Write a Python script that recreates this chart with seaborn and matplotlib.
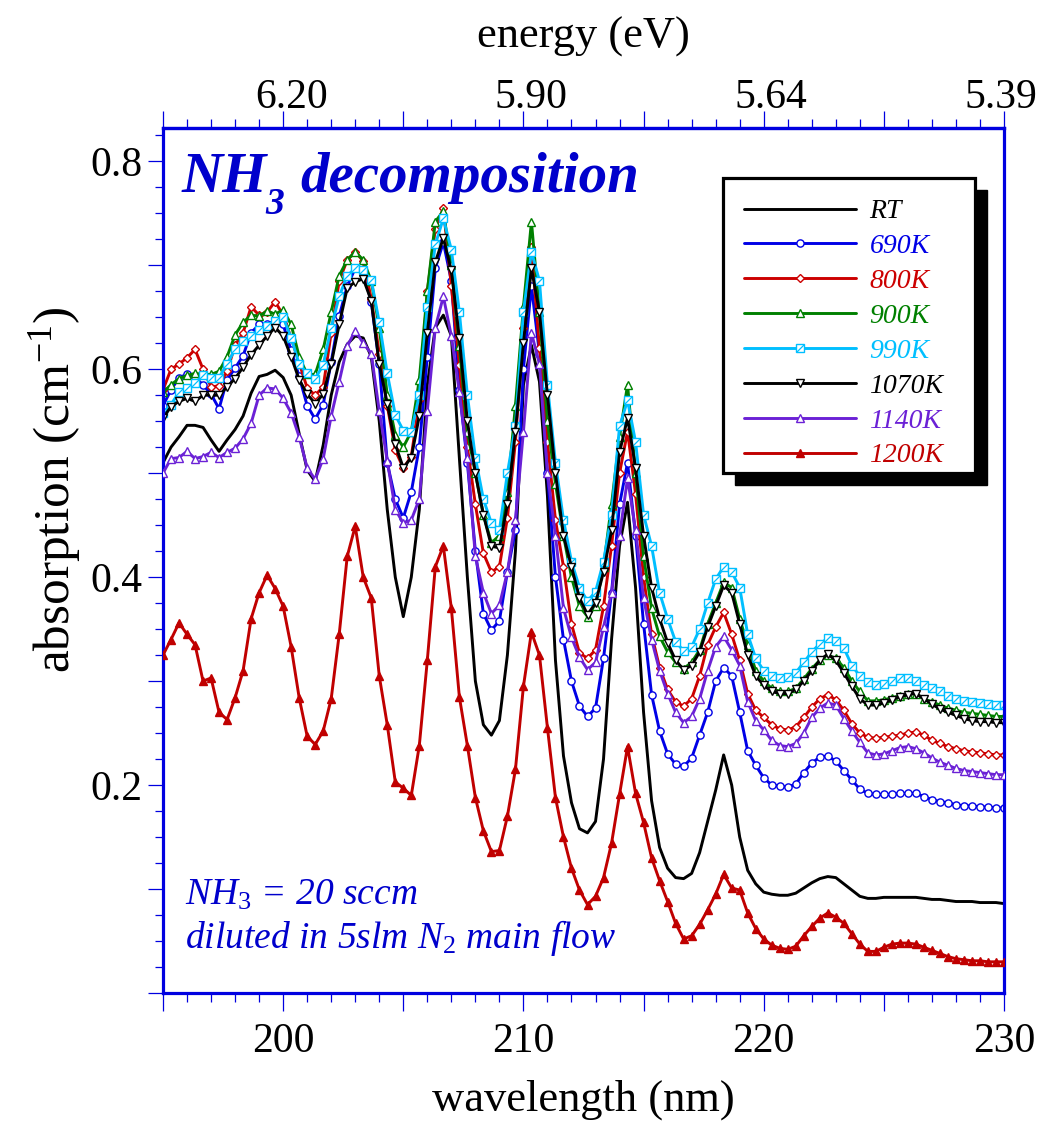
import numpy as np
import pandas as pd
import matplotlib
matplotlib.use("Agg")
import matplotlib.pyplot as plt
import matplotlib.transforms as mtransforms
import seaborn as sns
from matplotlib.patches import Rectangle
from matplotlib.path import Path
from matplotlib.ticker import FixedLocator, FixedFormatter, MultipleLocator
from matplotlib.legend_handler import HandlerTuple

# ---------------- data ----------------
wavelength = np.round(np.linspace(195.0, 230.0, 106), 3)   # 1/3 nm grid

rt = [0.510, 0.525, 0.535, 0.546, 0.546, 0.544, 0.532, 0.521, 0.532, 0.542,
      0.555, 0.577, 0.593, 0.595, 0.599, 0.592, 0.575, 0.538, 0.503, 0.492,
      0.527, 0.575, 0.607, 0.624, 0.632, 0.630, 0.612, 0.550, 0.465, 0.400,
      0.362, 0.400, 0.465, 0.585, 0.640, 0.652, 0.632, 0.515, 0.400, 0.300,
      0.258, 0.248, 0.262, 0.325, 0.425, 0.585, 0.623, 0.588, 0.478, 0.320,
      0.228, 0.183, 0.158, 0.154, 0.165, 0.225, 0.340, 0.430, 0.472, 0.390,
      0.270, 0.185, 0.140, 0.120, 0.111, 0.110, 0.115, 0.135, 0.165, 0.195,
      0.229, 0.200, 0.150, 0.118, 0.105, 0.097, 0.095, 0.094, 0.094, 0.096,
      0.101, 0.106, 0.110, 0.112, 0.111, 0.105, 0.099, 0.093, 0.091, 0.091,
      0.092, 0.092, 0.092, 0.092, 0.092, 0.091, 0.090, 0.090, 0.089, 0.088,
      0.088, 0.088, 0.087, 0.087, 0.087, 0.086]

k690 = [0.565, 0.580, 0.592, 0.595, 0.592, 0.585, 0.576, 0.562, 0.590, 0.601,
        0.613, 0.635, 0.643, 0.643, 0.647, 0.643, 0.618, 0.593, 0.565, 0.552,
        0.566, 0.607, 0.651, 0.680, 0.697, 0.693, 0.665, 0.605, 0.510, 0.475,
        0.457, 0.482, 0.525, 0.612, 0.697, 0.722, 0.685, 0.580, 0.510, 0.425,
        0.365, 0.349, 0.358, 0.405, 0.445, 0.600, 0.680, 0.615, 0.500, 0.400,
        0.340, 0.300, 0.276, 0.266, 0.274, 0.322, 0.385, 0.470, 0.510, 0.440,
        0.355, 0.287, 0.252, 0.230, 0.220, 0.218, 0.226, 0.248, 0.270, 0.300,
        0.313, 0.305, 0.270, 0.233, 0.219, 0.207, 0.200, 0.199, 0.198, 0.201,
        0.212, 0.221, 0.227, 0.228, 0.223, 0.214, 0.205, 0.196, 0.192, 0.191,
        0.191, 0.191, 0.192, 0.192, 0.192, 0.189, 0.186, 0.184, 0.183, 0.181,
        0.180, 0.180, 0.179, 0.179, 0.178, 0.178]

k800 = [0.580, 0.600, 0.605, 0.611, 0.619, 0.600, 0.583, 0.584, 0.598, 0.623,
        0.635, 0.660, 0.652, 0.655, 0.665, 0.652, 0.630, 0.606, 0.582, 0.575,
        0.583, 0.635, 0.685, 0.705, 0.713, 0.704, 0.668, 0.615, 0.565, 0.522,
        0.505, 0.516, 0.570, 0.675, 0.735, 0.755, 0.680, 0.604, 0.525, 0.470,
        0.423, 0.405, 0.410, 0.457, 0.530, 0.640, 0.718, 0.620, 0.530, 0.455,
        0.410, 0.355, 0.327, 0.322, 0.330, 0.372, 0.430, 0.500, 0.540, 0.480,
        0.400, 0.345, 0.313, 0.292, 0.280, 0.276, 0.283, 0.305, 0.335, 0.352,
        0.366, 0.345, 0.320, 0.288, 0.272, 0.265, 0.258, 0.254, 0.253, 0.256,
        0.265, 0.275, 0.283, 0.287, 0.282, 0.272, 0.259, 0.250, 0.246, 0.245,
        0.246, 0.247, 0.248, 0.250, 0.251, 0.248, 0.243, 0.240, 0.237, 0.235,
        0.233, 0.232, 0.231, 0.230, 0.229, 0.229]

k900 = [0.578, 0.585, 0.591, 0.594, 0.596, 0.595, 0.595, 0.598, 0.612, 0.633,
        0.645, 0.652, 0.651, 0.656, 0.653, 0.657, 0.643, 0.612, 0.595, 0.595,
        0.619, 0.655, 0.690, 0.705, 0.713, 0.705, 0.685, 0.640, 0.575, 0.537,
        0.525, 0.540, 0.590, 0.675, 0.742, 0.752, 0.700, 0.622, 0.540, 0.500,
        0.460, 0.433, 0.440, 0.482, 0.565, 0.660, 0.742, 0.655, 0.550, 0.490,
        0.440, 0.400, 0.372, 0.362, 0.372, 0.410, 0.470, 0.535, 0.585, 0.500,
        0.420, 0.370, 0.343, 0.328, 0.318, 0.312, 0.318, 0.330, 0.355, 0.375,
        0.395, 0.390, 0.360, 0.335, 0.310, 0.300, 0.293, 0.290, 0.290, 0.293,
        0.302, 0.312, 0.320, 0.325, 0.322, 0.313, 0.300, 0.290, 0.281, 0.281,
        0.282, 0.284, 0.286, 0.288, 0.288, 0.283, 0.280, 0.277, 0.274, 0.272,
        0.270, 0.269, 0.268, 0.267, 0.266, 0.266]

k990 = [0.558, 0.566, 0.578, 0.582, 0.587, 0.594, 0.592, 0.592, 0.605, 0.619,
        0.627, 0.632, 0.638, 0.642, 0.646, 0.650, 0.630, 0.605, 0.596, 0.591,
        0.604, 0.640, 0.670, 0.690, 0.697, 0.695, 0.686, 0.645, 0.596, 0.556,
        0.541, 0.540, 0.575, 0.660, 0.720, 0.745, 0.715, 0.655, 0.575, 0.515,
        0.475, 0.452, 0.445, 0.500, 0.545, 0.655, 0.713, 0.685, 0.585, 0.510,
        0.455, 0.415, 0.390, 0.377, 0.386, 0.415, 0.460, 0.545, 0.570, 0.530,
        0.460, 0.430, 0.385, 0.360, 0.338, 0.329, 0.333, 0.350, 0.375, 0.398,
        0.410, 0.405, 0.390, 0.345, 0.322, 0.310, 0.305, 0.303, 0.304, 0.308,
        0.318, 0.328, 0.336, 0.341, 0.339, 0.332, 0.315, 0.305, 0.299, 0.296,
        0.297, 0.300, 0.303, 0.303, 0.300, 0.296, 0.293, 0.290, 0.286, 0.283,
        0.281, 0.280, 0.279, 0.278, 0.277, 0.277]

k1070 = [0.553, 0.564, 0.569, 0.572, 0.569, 0.575, 0.575, 0.575, 0.583, 0.591,
         0.602, 0.614, 0.623, 0.632, 0.640, 0.632, 0.612, 0.590, 0.576, 0.567,
         0.576, 0.605, 0.643, 0.678, 0.684, 0.687, 0.666, 0.605, 0.567, 0.528,
         0.505, 0.515, 0.555, 0.635, 0.703, 0.726, 0.695, 0.630, 0.550, 0.500,
         0.460, 0.430, 0.428, 0.470, 0.540, 0.625, 0.697, 0.655, 0.575, 0.500,
         0.440, 0.410, 0.380, 0.364, 0.375, 0.405, 0.445, 0.520, 0.553, 0.505,
         0.440, 0.390, 0.360, 0.337, 0.320, 0.311, 0.315, 0.328, 0.352, 0.372,
         0.392, 0.385, 0.355, 0.325, 0.305, 0.296, 0.290, 0.288, 0.288, 0.292,
         0.300, 0.310, 0.320, 0.326, 0.320, 0.308, 0.295, 0.283, 0.277, 0.277,
         0.279, 0.282, 0.285, 0.287, 0.288, 0.283, 0.278, 0.273, 0.270, 0.267,
         0.264, 0.262, 0.261, 0.261, 0.260, 0.260]

k1140 = [0.500, 0.514, 0.515, 0.521, 0.514, 0.516, 0.520, 0.515, 0.520, 0.524,
         0.533, 0.548, 0.575, 0.582, 0.581, 0.572, 0.558, 0.535, 0.505, 0.494,
         0.514, 0.555, 0.588, 0.622, 0.637, 0.625, 0.615, 0.560, 0.512, 0.465,
         0.452, 0.455, 0.475, 0.560, 0.640, 0.670, 0.632, 0.578, 0.515, 0.420,
         0.385, 0.365, 0.373, 0.405, 0.455, 0.540, 0.635, 0.605, 0.500, 0.440,
         0.370, 0.342, 0.323, 0.311, 0.318, 0.352, 0.385, 0.440, 0.495, 0.445,
         0.380, 0.340, 0.310, 0.288, 0.270, 0.260, 0.266, 0.283, 0.310, 0.333,
         0.343, 0.330, 0.315, 0.280, 0.262, 0.253, 0.243, 0.238, 0.237, 0.240,
         0.250, 0.265, 0.274, 0.279, 0.277, 0.264, 0.252, 0.241, 0.231, 0.229,
         0.230, 0.233, 0.236, 0.237, 0.235, 0.231, 0.226, 0.222, 0.219, 0.216,
         0.214, 0.213, 0.212, 0.211, 0.210, 0.210]

k1200 = [0.325, 0.340, 0.356, 0.345, 0.335, 0.300, 0.303, 0.270, 0.263, 0.284,
         0.310, 0.360, 0.385, 0.402, 0.389, 0.372, 0.333, 0.284, 0.247, 0.239,
         0.252, 0.283, 0.345, 0.420, 0.449, 0.400, 0.380, 0.305, 0.258, 0.203,
         0.197, 0.190, 0.238, 0.320, 0.410, 0.430, 0.370, 0.285, 0.238, 0.188,
         0.156, 0.136, 0.137, 0.170, 0.215, 0.295, 0.347, 0.325, 0.255, 0.188,
         0.150, 0.120, 0.099, 0.085, 0.093, 0.111, 0.144, 0.191, 0.237, 0.192,
         0.164, 0.130, 0.108, 0.088, 0.067, 0.052, 0.055, 0.066, 0.080, 0.095,
         0.114, 0.101, 0.099, 0.077, 0.062, 0.052, 0.046, 0.043, 0.042, 0.045,
         0.055, 0.064, 0.072, 0.077, 0.073, 0.067, 0.057, 0.047, 0.040, 0.040,
         0.044, 0.047, 0.048, 0.048, 0.047, 0.044, 0.041, 0.038, 0.035, 0.033,
         0.032, 0.031, 0.031, 0.030, 0.030, 0.030]

series_names = ["RT", "690K", "800K", "900K", "990K", "1070K", "1140K", "1200K"]
series_values = [rt, k690, k800, k900, k990, k1070, k1140, k1200]

x_major_ticks = [195, 200, 205, 210, 215, 220, 225, 230]
x_tick_labels = ["", "200", "", "210", "", "220", "", "230"]
energy_tick_labels = ["", "6.20", "", "5.90", "", "5.64", "", "5.39"]
y_major_ticks = [0.0, 0.1, 0.2, 0.3, 0.4, 0.5, 0.6, 0.7, 0.8]
y_tick_labels = ["", "", "0.2", "", "0.4", "", "0.6", "", "0.8"]

# ---------------- styles ----------------
colors = {"RT": "#000000", "690K": "#0000e6", "800K": "#cc0000", "900K": "#008000",
          "990K": "#00bfff", "1070K": "#000000", "1140K": "#6b21d6", "1200K": "#c00000"}
markers = {"RT": None, "690K": "o", "800K": "D", "900K": "^", "990K": "s",
           "1070K": "v", "1140K": "^", "1200K": "^"}
msizes = {"RT": 0, "690K": 5.2, "800K": 4.4, "900K": 5.6, "990K": 5.4,
          "1070K": 5.6, "1140K": 5.6, "1200K": 5.6}
AXIS_BLUE = "#0000e0"
TEXT_BLUE = "#0000cc"
top_label_shift_px = [0, 8, 0, 8, 0, 7, 0, -3]

df = pd.DataFrame({
    "wavelength": np.tile(wavelength, len(series_names)),
    "absorption": np.concatenate([np.asarray(v, float) for v in series_values]),
    "series": np.repeat(series_names, len(wavelength)),
})

# ---------------- figure ----------------
sns.set_theme(style="white")
plt.rcParams["font.family"] = ["Liberation Serif", "DejaVu Serif"]
plt.rcParams["text.color"] = "black"
plt.rcParams["axes.labelcolor"] = "black"
plt.rcParams["mathtext.fontset"] = "custom"
plt.rcParams["mathtext.rm"] = "Liberation Serif"
plt.rcParams["mathtext.it"] = "Liberation Serif:italic"
plt.rcParams["mathtext.bf"] = "Liberation Serif:bold:italic"

W, H = 1042, 1138
fig = plt.figure(figsize=(W / 100, H / 100), dpi=100)
L, R, T, B = 163, 1004, 128, 993
ax = fig.add_axes([L / W, 1 - B / H, (R - L) / W, (B - T) / H])
ax.set_facecolor("white")


def ax_x(px):
    return (px - L) / (R - L)


def ax_y(py):
    return (B - py) / (B - T)


handles = []
diag = Path([(-0.5, -0.5), (0.5, 0.5)], [Path.MOVETO, Path.LINETO])
for i, name in enumerate(series_names):
    sub = df[df["series"] == name]
    c = colors[name]
    z = 2 + i * 0.1
    kw = dict(color=c, linewidth=2.1, zorder=z)
    if markers[name] is not None:
        kw.update(marker=markers[name], markersize=msizes[name],
                  markeredgecolor=c, markeredgewidth=1.0,
                  markerfacecolor=(c if name == "1200K" else "white"))
    sns.lineplot(data=sub, x="wavelength", y="absorption", ax=ax,
                 errorbar=None, sort=True, legend=False, **kw)
    line = ax.lines[-1]
    if name == "990K":
        ov, = ax.plot(sub["wavelength"], sub["absorption"], linestyle="none",
                      marker=diag, markersize=msizes[name], markeredgecolor=c,
                      markeredgewidth=0.9, zorder=z + 0.05)
        handles.append((line, ov))
    else:
        handles.append(line)

ax.set_xlim(195, 230)
ax.set_ylim(0.0, 0.832)

for s in ax.spines.values():
    s.set_color(AXIS_BLUE)
    s.set_linewidth(2.3)

# bottom ticks
ax.xaxis.set_major_locator(FixedLocator(x_major_ticks))
ax.xaxis.set_major_formatter(FixedFormatter(x_tick_labels))
ax.xaxis.set_minor_locator(MultipleLocator(1))
ax.tick_params(axis="x", which="major", direction="out", length=13, width=0.9,
               color=AXIS_BLUE, labelsize=30, pad=8, bottom=True, top=False,
               labelcolor="black")
ax.tick_params(axis="x", which="minor", direction="out", length=6.5, width=0.9,
               color=AXIS_BLUE, bottom=True, top=False)
# left ticks
ax.yaxis.set_major_locator(FixedLocator(y_major_ticks))
ax.yaxis.set_major_formatter(FixedFormatter(y_tick_labels))
ax.yaxis.set_minor_locator(MultipleLocator(0.025))
ax.tick_params(axis="y", which="major", direction="out", length=11, width=0.9,
               color=AXIS_BLUE, labelsize=30, pad=4, left=True, right=False,
               labelcolor="black")
ax.tick_params(axis="y", which="minor", direction="out", length=6, width=0.9,
               color=AXIS_BLUE, left=True, right=False)

# top energy axis
sec = ax.secondary_xaxis("top")
sec.xaxis.set_major_locator(FixedLocator(x_major_ticks))
sec.xaxis.set_major_formatter(FixedFormatter(energy_tick_labels))
sec.xaxis.set_minor_locator(MultipleLocator(1))
sec.tick_params(axis="x", which="major", direction="out", length=12.5, width=0.9,
                color=AXIS_BLUE, labelsize=30, pad=-4.5, labelcolor="black")
sec.tick_params(axis="x", which="minor", direction="out", length=6.5, width=0.9,
                color=AXIS_BLUE)
sec.spines["top"].set_color(AXIS_BLUE)
sec.spines["top"].set_linewidth(2.3)
sec.set_xlabel("energy (eV)", fontsize=32, labelpad=22, color="black")

# axis labels
ax.set_xlabel("wavelength (nm)", fontsize=32, color="black")
ax.xaxis.set_label_coords(0.5, ax_y(1100))
ax.xaxis.label.set_va("center")
ax.set_ylabel("absorption (cm$^{-1}$)", fontsize=37, color="black")
ax.yaxis.set_label_coords(ax_x(55), ax_y(490))
ax.yaxis.label.set_va("center")

# title pieces: NH, subscript 3, decomposition
title_kw = dict(transform=ax.transAxes, fontweight="bold", fontstyle="italic",
                color=TEXT_BLUE, va="baseline", ha="left")
ax.text(ax_x(182), ax_y(192), "NH", fontsize=41, **title_kw)
ax.text(ax_x(265), ax_y(214), "3", fontsize=27, **title_kw)
ax.text(ax_x(300), ax_y(192), "decomposition", fontsize=41, **title_kw)

# flow annotation
ax.text(ax_x(185), ax_y(905), r"$\mathit{NH_3}$ = 20 sccm",
        transform=ax.transAxes, fontsize=27, fontstyle="italic",
        color=TEXT_BLUE, va="baseline", ha="left")
ax.text(ax_x(185), ax_y(948), r"diluted in 5slm $\mathit{N_2}$ main flow",
        transform=ax.transAxes, fontsize=27, fontstyle="italic",
        color=TEXT_BLUE, va="baseline", ha="left")

# legend (frame and shadow drawn as patches)
fx0, fy0, fx1, fy1 = 723, 178, 975, 473
shadow = 12
ax.add_patch(Rectangle((ax_x(fx0 + shadow), ax_y(fy1 + shadow)),
                       (fx1 - fx0) / (R - L), (fy1 - fy0) / (B - T),
                       transform=ax.transAxes, facecolor="black", edgecolor="black",
                       zorder=9, clip_on=False))
ax.add_patch(Rectangle((ax_x(fx0), ax_y(fy1)),
                       (fx1 - fx0) / (R - L), (fy1 - fy0) / (B - T),
                       transform=ax.transAxes, facecolor="white", edgecolor="black",
                       linewidth=2.3, zorder=9.5, clip_on=False))
leg = ax.legend(handles, series_names, loc="upper left",
                bbox_to_anchor=(ax_x(fx0), ax_y(fy0)),
                borderaxespad=0, handlelength=4.05, handletextpad=0.47,
                labelspacing=0.34, borderpad=0.75, numpoints=1, frameon=False,
                prop={"family": "Liberation Serif", "style": "italic", "size": 20},
                handler_map={tuple: HandlerTuple(ndivide=1)})
leg.set_zorder(10)
for t, name in zip(leg.get_texts(), series_names):
    t.set_color(colors[name])

# top tick labels sit slightly right of their ticks in the reference
for tick, dxp in zip(sec.xaxis.get_major_ticks(), top_label_shift_px):
    shift = mtransforms.ScaledTranslation(dxp / 100, 0, fig.dpi_scale_trans)
    tick.label1.set_transform(tick.label1.get_transform() + shift)
    tick.label2.set_transform(tick.label2.get_transform() + shift)

fig.savefig("out.png", dpi=100, facecolor="white")
